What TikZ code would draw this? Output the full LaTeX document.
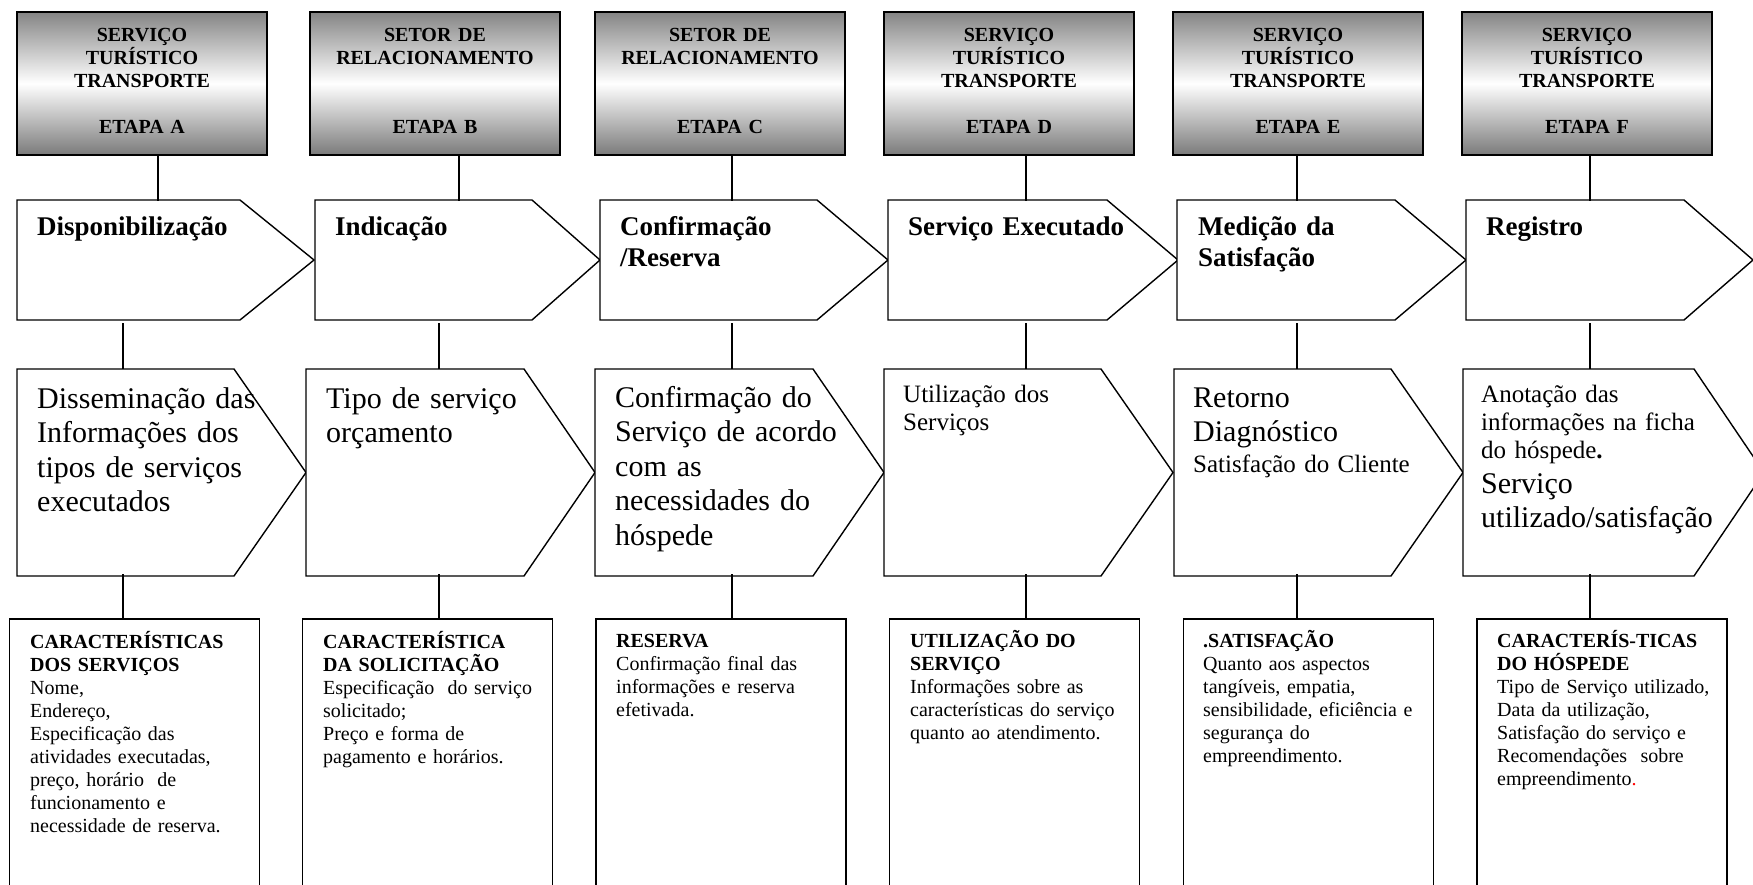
\documentclass[tikz,border=0pt]{standalone}
\usepackage{fontspec}
\setmainfont{Liberation Serif}
\begin{document}
\begin{tikzpicture}[x=1pt,y=-1pt,
  topbox/.style={draw=black, line width=1.6pt, top color=black!48, bottom color=black!52, middle color=white, minimum width=250pt, minimum height=143pt, inner sep=0pt},
  pent/.style={draw=black, line width=1.4pt, fill=white, line join=miter},
  conn/.style={draw=black, line width=1.4pt},
  infobox/.style={draw=black, line width=1.8pt, fill=white, minimum width=250pt, minimum height=300pt, inner sep=0pt},
  hdr/.style={anchor=base, inner sep=0pt, align=center, text width=250pt, font=\bfseries\fontsize{20}{23}\selectfont},
  ttl/.style={anchor=base west, inner sep=0pt, align=left, text width=400pt, font=\bfseries\fontsize{27}{31}\selectfont},
  bigt/.style={anchor=base west, inner sep=0pt, align=left, text width=400pt, font=\fontsize{30}{34.5}\selectfont},
  smallt/.style={anchor=base west, inner sep=0pt, align=left, text width=400pt, font=\fontsize{25}{28.3}\selectfont},
  info/.style={anchor=base west, inner sep=0pt, align=left, text width=400pt, font=\fontsize{20}{23}\selectfont},
]
\useasboundingbox (0,0) rectangle (1753,885);
\fill[white] (0,0) rectangle (1753,885);
\clip (0,0) rectangle (1753,885);

% top boxes
\foreach \n/\cx in {A/142,B/435,C/720,D/1009,E/1298,F/1587}
  \node[topbox] (t\n) at (\cx,83.5) {};

\node[hdr] (hA) at (142,42) {SERVIÇO\\TURÍSTICO\\TRANSPORTE\\\mbox{}\\ETAPA A};
\node[hdr] (hB) at (435,42) {SETOR DE\\RELACIONAMENTO\\\mbox{}\\\mbox{}\\ETAPA B};
\node[hdr] (hC) at (720,42) {SETOR DE\\RELACIONAMENTO\\\mbox{}\\\mbox{}\\ETAPA C};
\node[hdr] (hD) at (1009,42) {SERVIÇO\\TURÍSTICO\\TRANSPORTE\\\mbox{}\\ETAPA D};
\node[hdr] (hE) at (1298,42) {SERVIÇO\\TURÍSTICO\\TRANSPORTE\\\mbox{}\\ETAPA E};
\node[hdr] (hF) at (1587,42) {SERVIÇO\\TURÍSTICO\\TRANSPORTE\\\mbox{}\\ETAPA F};

% row 1 arrows
\foreach \l/\s/\t in {17/240/314, 315/532/600, 600/817/888, 888/1107/1178, 1177/1395/1466, 1466/1684/1753}
  \draw[pent] (\l,200) -- (\s,200) -- (\t,260) -- (\s,320) -- (\l,320) -- cycle;

% row 2 arrows
\foreach \l/\s/\t in {17/234/306, 306/524/595, 595/813/884, 884/1101/1173, 1174/1391/1463, 1463/1694/1764}
  \draw[pent] (\l,369) -- (\s,369) -- (\t,472.5) -- (\s,576) -- (\l,576) -- cycle;

% row 3 boxes
\foreach \n/\cx in {A/134.5,B/427.5,C/721,D/1014.5,E/1308.5,F/1602}
  \node[infobox] (b\n) at (\cx,769) {};

% connectors top -> row 1
\foreach \n/\x in {A/158,B/459,C/732,D/1026,E/1297,F/1590} {
  \coordinate (u\n) at (\x,201);
  \draw[conn] (t\n.south -| u\n) -- (u\n);
}
% connectors row 1 -> row 2 -> row 3
\foreach \n/\x in {A/123,B/439,C/732,D/1026,E/1297,F/1590} {
  \coordinate (m\n1) at (\x,323);
  \coordinate (m\n2) at (\x,369);
  \coordinate (l\n1) at (\x,574);
  \draw[conn] (m\n1) -- (m\n2);
  \draw[conn] (l\n1) -- (b\n.north -| l\n1);
}

% row 1 titles
\node[ttl] (k1A) at (37,236) {Disponibilização};
\node[ttl] (k1B) at (335,236) {Indicação};
\node[ttl] (k1C) at (620,236) {Confirmação\\/Reserva};
\node[ttl] (k1D) at (908,236) {Serviço Executado};
\node[ttl] (k1E) at (1198,236) {Medição da\\Satisfação};
\node[ttl] (k1F) at (1486,236) {Registro};

% row 2 texts
\node[bigt] (k2A) at (37,408) {Disseminação das\\Informações dos\\tipos de serviços\\executados};
\node[bigt] (k2B) at (326,408) {Tipo de serviço\\orçamento};
\node[bigt] (k2C) at (615,407) {Confirmação do\\Serviço de acordo\\com as\\necessidades do\\hóspede};
\node[smallt] (k2D) at (903,402) {Utilização dos\\Serviços};
\node[bigt] (k2E) at (1193,407) {Retorno\\Diagnóstico};
\node[smallt] (k2Ex) at (1193,472) {Satisfação do Cliente};
\node[smallt] (k2F) at (1481,402) {Anotação das\\informações na ficha\\do hóspede\textbf{.}};
\node[bigt] (k2Fx) at (1481,493) {Serviço\\utilizado/satisfação};

% row 3 texts
\node[info] (k3A) at (30,648) {\textbf{CARACTERÍSTICAS}\\\textbf{DOS SERVIÇOS}\\Nome,\\Endereço,\\Especificação das\\atividades executadas,\\preço, horário\ \ de\\funcionamento e\\necessidade de reserva.};
\node[info] (k3B) at (323,648) {\textbf{CARACTERÍSTICA}\\\textbf{DA SOLICITAÇÃO}\\Especificação\ \ do serviço\\solicitado;\\Preço e forma de\\pagamento e horários.};
\node[info] (k3C) at (616,647) {\textbf{RESERVA}\\Confirmação final das\\informações e reserva\\efetivada.};
\node[info] (k3D) at (910,647) {\textbf{UTILIZAÇÃO DO}\\\textbf{SERVIÇO}\\Informações sobre as\\características do serviço\\quanto ao atendimento.};
\node[info] (k3E) at (1203,647) {\textbf{.SATISFAÇÃO}\\Quanto aos aspectos\\tangíveis, empatia,\\sensibilidade, eficiência e\\segurança do\\empreendimento.};
\node[info] (k3F) at (1497,647) {\textbf{CARACTERÍS-TICAS}\\\textbf{DO HÓSPEDE}\\Tipo de Serviço utilizado,\\Data da utilização,\\Satisfação do serviço e\\Recomendações\ \ sobre\\empreendimento\textcolor{red}{.}};
\end{tikzpicture}
\end{document}
